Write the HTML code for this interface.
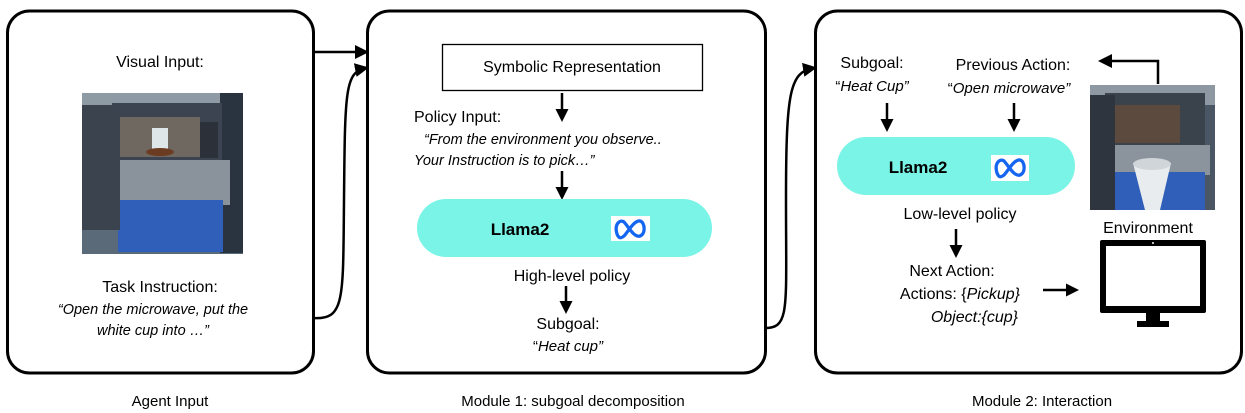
<!DOCTYPE html>
<html><head><meta charset="utf-8"><style>
html,body{margin:0;padding:0;background:#fff;}
svg{display:block;font-family:"Liberation Sans",Arial,sans-serif;}
</style></head><body>
<svg width="1245" height="413" viewBox="0 0 1245 413" xmlns="http://www.w3.org/2000/svg">
<defs>
<marker id="ah" markerWidth="14" markerHeight="14" refX="10" refY="7" orient="auto" markerUnits="userSpaceOnUse">
<path d="M0,0.5 L13,7 L0,13.5 Z" fill="#000"/></marker>
<marker id="ah2" markerWidth="14" markerHeight="14" refX="11" refY="7" orient="auto" markerUnits="userSpaceOnUse">
<path d="M0,0 L14,7 L0,14 Z" fill="#000"/></marker>
</defs>
<rect x="7.5" y="11" width="306" height="362" rx="22" fill="none" stroke="#000" stroke-width="3"/>
<rect x="367.5" y="11" width="398" height="362" rx="22" fill="none" stroke="#000" stroke-width="3"/>
<rect x="815.5" y="11" width="426" height="362" rx="22" fill="none" stroke="#000" stroke-width="3"/>

<line x1="313" y1="52" x2="366" y2="52" stroke="#000" stroke-width="2.5" marker-end="url(#ah2)"/>
<path d="M313,318 C345,320 343,300 344,200 C345,90 345,72 366,68" fill="none" stroke="#000" stroke-width="2.5" marker-end="url(#ah2)"/>
<path d="M765,328 C790,328 786,310 786,200 C786,90 790,72 814,68" fill="none" stroke="#000" stroke-width="2.5" marker-end="url(#ah2)"/>

<text x="160" y="67" font-size="16" text-anchor="middle">Visual Input:</text>
<g>
<rect x="82" y="93" width="161" height="161" fill="#5b6a78"/>
<rect x="82" y="93" width="161" height="30" fill="#8e9aa4"/>
<rect x="220" y="93" width="23" height="160" fill="#2a3340"/>
<rect x="112" y="103" width="110" height="60" fill="#3b4450"/>
<rect x="120" y="117" width="80" height="40" fill="#6f6860"/>
<rect x="200" y="122" width="18" height="36" fill="#2c3038"/>
<rect x="110" y="160" width="120" height="45" fill="#8a939c"/>
<rect x="118" y="200" width="105" height="52" fill="#2f5fb8"/>
<rect x="82" y="105" width="38" height="125" fill="#3a434e"/>
<rect x="152" y="128" width="16" height="22" fill="#dfe6ea"/>
<ellipse cx="160" cy="152" rx="14" ry="4" fill="#6b3c22"/>
</g>
<text x="160" y="292" font-size="16" text-anchor="middle">Task Instruction:</text>
<text x="153" y="314" font-size="14.5" text-anchor="middle" font-style="italic">“Open the microwave, put the</text>
<text x="153" y="335" font-size="14.5" text-anchor="middle" font-style="italic">white cup into …”</text>
<text x="170" y="406" font-size="15" text-anchor="middle">Agent Input</text>

<rect x="442.5" y="44.5" width="260" height="46" fill="#fff" stroke="#000" stroke-width="1.3"/>
<text x="572" y="72" font-size="16" text-anchor="middle">Symbolic Representation</text>
<line x1="562" y1="93" x2="562" y2="119" stroke="#000" stroke-width="2.5" marker-end="url(#ah)"/>
<text x="414" y="122" font-size="16">Policy Input:</text>
<text x="424" y="144" font-size="14.5" font-style="italic">“From the environment you observe..</text>
<text x="414" y="165" font-size="14.5" font-style="italic">Your Instruction is to pick…”</text>
<line x1="562" y1="171" x2="562" y2="197" stroke="#000" stroke-width="2.5" marker-end="url(#ah)"/>
<rect x="417" y="199" width="295" height="58" rx="29" fill="#7af4e6"/>
<text x="520" y="235" font-size="17" font-weight="bold" text-anchor="middle">Llama2</text>
<rect x="611" y="216" width="39" height="25" fill="#fff"/>
<path d="M617,234 C614,224 620,219 624,222 C628,226 634,238 640,236 C646,234 645,222 640,221 C634,220 628,232 624,236 C619,240 618,236 617,234 Z" fill="none" stroke="#1466f0" stroke-width="3.3"/>
<text x="572" y="281" font-size="16" text-anchor="middle">High-level policy</text>
<line x1="566" y1="286" x2="566" y2="311" stroke="#000" stroke-width="2.5" marker-end="url(#ah)"/>
<text x="568" y="329" font-size="16" text-anchor="middle">Subgoal:</text>
<text x="568" y="351" font-size="15" text-anchor="middle"><tspan>“</tspan><tspan font-style="italic">Heat cup”</tspan></text>
<text x="573" y="406" font-size="15" text-anchor="middle">Module 1: subgoal decomposition</text>

<text x="872" y="68" font-size="16" text-anchor="middle">Subgoal:</text>
<text x="872" y="91" font-size="15" text-anchor="middle"><tspan>“</tspan><tspan font-style="italic">Heat Cup”</tspan></text>
<text x="1013" y="70" font-size="16" text-anchor="middle">Previous Action:</text>
<text x="1009" y="93" font-size="15" text-anchor="middle"><tspan>“</tspan><tspan font-style="italic">Open microwave”</tspan></text>
<line x1="887" y1="103" x2="887" y2="129" stroke="#000" stroke-width="2.5" marker-end="url(#ah)"/>
<line x1="1014" y1="103" x2="1014" y2="129" stroke="#000" stroke-width="2.5" marker-end="url(#ah)"/>
<rect x="837" y="137" width="238" height="58" rx="29" fill="#7af4e6"/>
<text x="918" y="173" font-size="17" font-weight="bold" text-anchor="middle">Llama2</text>
<rect x="991" y="155" width="38" height="26" fill="#fff"/>
<path d="M997,173 C994,163 1000,158 1004,161 C1008,165 1014,177 1020,175 C1026,173 1025,161 1020,160 C1014,159 1008,171 1004,175 C999,179 998,175 997,173 Z" fill="none" stroke="#1466f0" stroke-width="3.3"/>
<text x="960" y="219" font-size="16" text-anchor="middle">Low-level policy</text>
<line x1="956" y1="229" x2="956" y2="255" stroke="#000" stroke-width="2.5" marker-end="url(#ah)"/>
<text x="952" y="276" font-size="16" text-anchor="middle">Next Action:</text>
<text x="1020" y="299" font-size="16" text-anchor="end">Actions: {<tspan font-style="italic">Pickup}</tspan></text>
<text x="1018" y="322" font-size="16" text-anchor="end" font-style="italic">Object:{cup}</text>
<line x1="1043" y1="290" x2="1076" y2="290" stroke="#000" stroke-width="2.5" marker-end="url(#ah)"/>
<g>
<rect x="1090" y="85" width="125" height="125" fill="#4a5663"/>
<rect x="1090" y="85" width="125" height="20" fill="#8d98a2"/>
<rect x="1105" y="93" width="100" height="55" fill="#3a424c"/>
<rect x="1115" y="105" width="65" height="38" fill="#5c4a3e"/>
<rect x="1100" y="145" width="110" height="30" fill="#8b949c"/>
<rect x="1110" y="172" width="95" height="38" fill="#2f5fb8"/>
<rect x="1090" y="95" width="25" height="115" fill="#2e353f"/>
<path d="M1133,163 L1171,163 L1160,210 L1145,210 Z" fill="#e8ecef"/>
<ellipse cx="1152" cy="164" rx="19" ry="6" fill="#cfd5d9"/>
</g>
<path d="M1158,84 L1158,61 L1101,61" fill="none" stroke="#000" stroke-width="2.5" marker-end="url(#ah2)"/>
<text x="1148" y="233" font-size="16" text-anchor="middle">Environment</text>
<rect x="1100" y="240" width="106" height="73" rx="2" fill="#000"/>
<rect x="1106" y="246" width="94" height="60" fill="#fff"/>
<rect x="1146" y="313" width="14" height="9" fill="#000"/>
<rect x="1137" y="321" width="32" height="6" fill="#000"/>
<circle cx="1153" cy="243" r="1" fill="#fff"/>
<text x="1042" y="406" font-size="15" text-anchor="middle">Module 2: Interaction</text>
</svg>
</body></html>
